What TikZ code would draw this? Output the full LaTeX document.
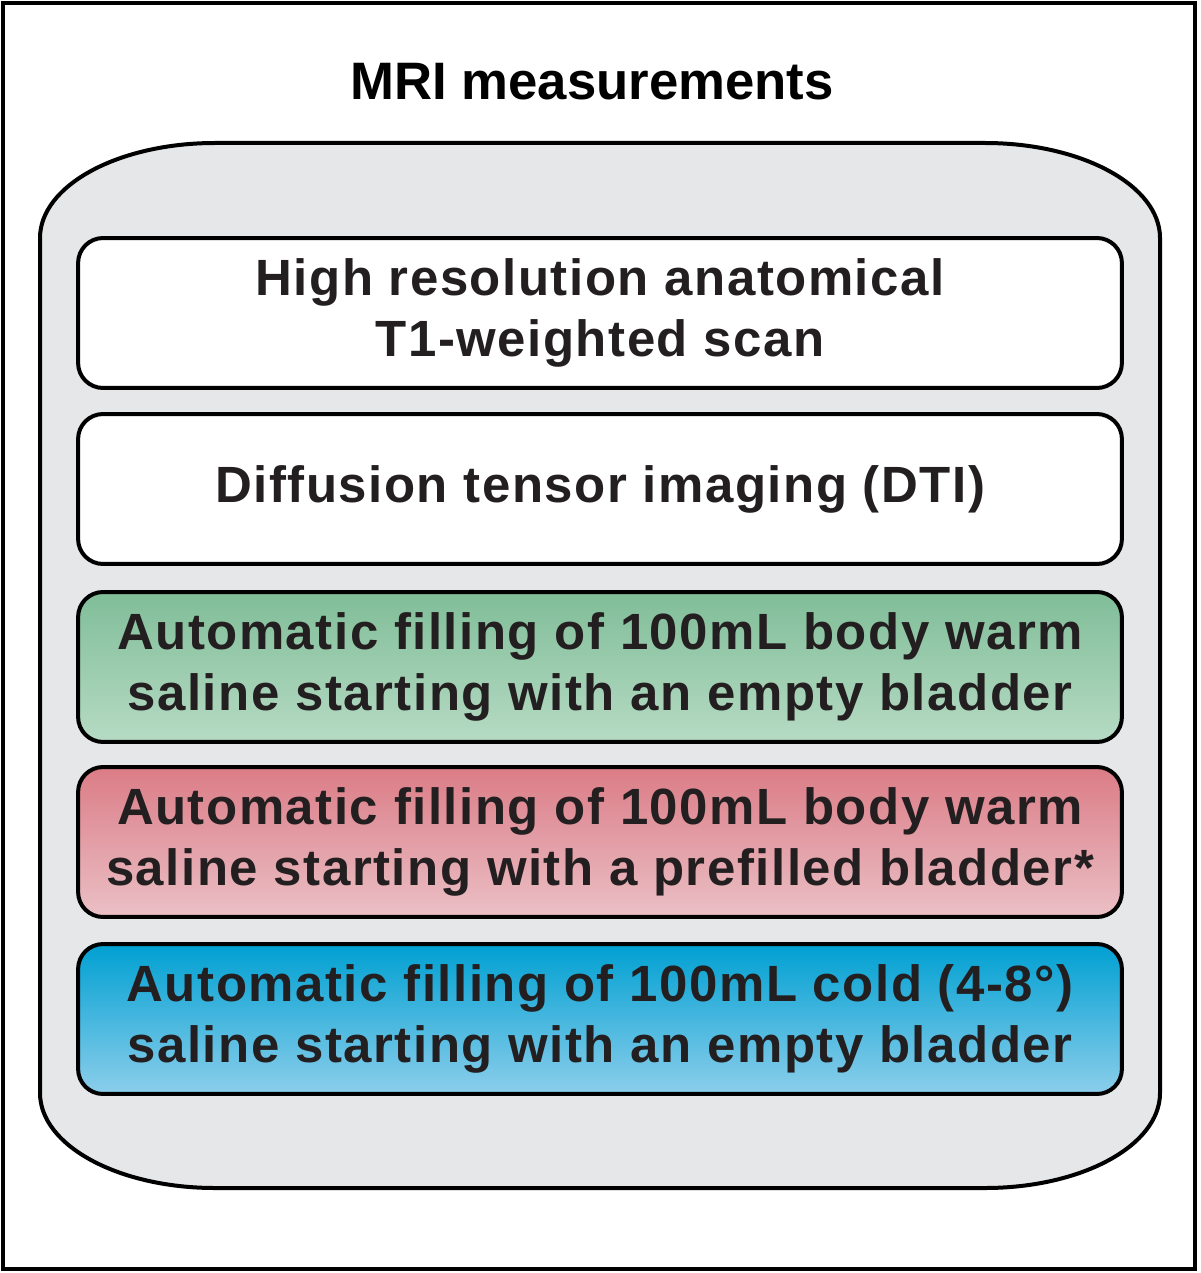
\documentclass[tikz,border=0pt]{standalone}
\usepackage{fontspec}
\setmainfont{Liberation Sans}
\definecolor{txt}{RGB}{35,31,32}
\definecolor{panel}{RGB}{230,231,232}
\definecolor{greentop}{RGB}{128,189,152}
\definecolor{greenbot}{RGB}{182,219,196}
\definecolor{redtop}{RGB}{219,124,134}
\definecolor{redbot}{RGB}{235,192,198}
\definecolor{bluetop}{RGB}{0,160,210}
\definecolor{bluebot}{RGB}{140,206,235}
\begin{document}
\begin{tikzpicture}[x=0.02cm,y=0.02cm]

  \tikzset{scan/.style={draw=black,line width=0.08cm,rounded corners=0.5cm,fill=white,
      minimum width=20.88cm,minimum height=3cm,align=center,text=txt,
      font=\fontsize{29}{35}\selectfont\bfseries\addfontfeature{LetterSpace=3}}}
  \useasboundingbox (0,0) rectangle (1200,-1273);
  \draw[line width=0.08cm] (3,-3) rectangle (1195,-1269);
  \node[font=\fontsize{30}{36}\selectfont\bfseries] (title) at (592,-82) {MRI measurements};
  \draw[line width=0.08cm,fill=panel] (40,-238) arc[start angle=180,end angle=90,x radius=175,y radius=95]
    -- (985,-143) arc[start angle=90,end angle=0,x radius=175,y radius=95]
    -- (1160,-1093) arc[start angle=0,end angle=-90,x radius=175,y radius=95]
    -- (215,-1188) arc[start angle=-90,end angle=-180,x radius=175,y radius=95] -- cycle;
  \node[scan] (anat) at (600,-313) {High resolution anatomical\\T1-weighted scan};
  \node[scan] (dti) at (600,-489) {Diffusion tensor imaging (DTI)};
  \node[scan,top color=greentop,bottom color=greenbot] (warm) at (600,-667)
    {Automatic filling of 100mL body warm\\saline starting with an empty bladder};
  \node[scan,top color=redtop,bottom color=redbot] (prefill) at (600,-842)
    {Automatic filling of 100mL body warm\\saline starting with a prefilled bladder*};
  \node[scan,top color=bluetop,bottom color=bluebot] (cold) at (600,-1019)
    {Automatic filling of 100mL cold (4-8°)\\saline starting with an empty bladder};
\end{tikzpicture}
\end{document}
